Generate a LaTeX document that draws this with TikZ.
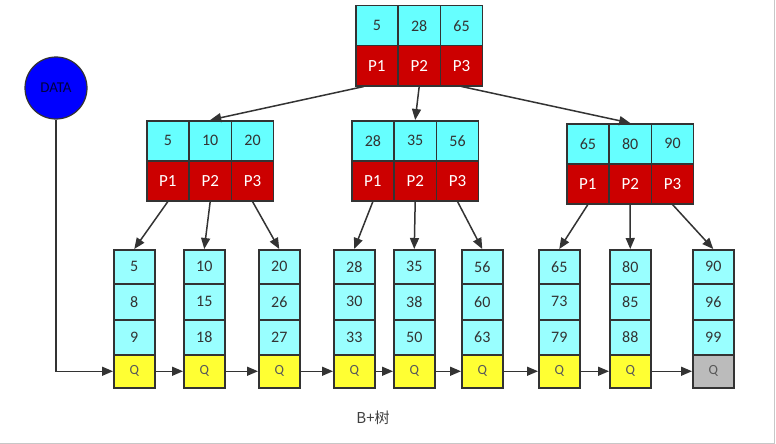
\documentclass[tikz,border=0pt]{standalone}
\usepackage{fontspec}
\setmainfont{Carlito}
\newfontfamily\cjkfont{Noto Sans CJK SC}
\usetikzlibrary{arrows.meta,calc}

\definecolor{keycyan}{HTML}{66FFFF}
\definecolor{leafcyan}{HTML}{99FFFF}
\definecolor{ptrred}{HTML}{CC0000}
\definecolor{qyellow}{HTML}{FFFF33}
\definecolor{qgrey}{HTML}{BBBBBB}
\definecolor{edgegrey}{HTML}{333333}
\definecolor{datablue}{HTML}{0000FF}

\tikzset{
  cellbox/.style={draw=edgegrey, line width=1.5pt, rectangle, inner sep=0pt, anchor=north west},
  keycell/.style={cellbox, fill=keycyan, minimum width=42.3pt, minimum height=40pt,
    text=edgegrey, font=\fontsize{16}{18}\selectfont},
  ptrcell/.style={cellbox, fill=ptrred, minimum width=42.3pt, minimum height=40pt,
    text=white, font=\fontsize{17}{19}\selectfont},
  leafkey/.style={cellbox, fill=leafcyan, minimum width=41pt,
    text=edgegrey, font=\fontsize{16}{18}\selectfont},
  qcell/.style={cellbox, minimum width=41pt, minimum height=33pt,
    text=black!65, font=\fontsize{14}{16}\selectfont},
  arr/.style={draw=edgegrey, line width=1.5pt, -{Triangle[length=11pt,width=9pt]}},
}

% index node: three keys over three pointers; #1 name, #2 left, #3 top
\newcommand\bnode[6]{%
  \node[keycell] (#1a) at (#2,#3) {#4};
  \node[keycell] (#1b) at (#2+42.3,#3) {#5};
  \node[keycell] (#1c) at (#2+84.6,#3) {#6};
  \node[ptrcell] (#1p1) at (#2,#3+40) {P1};
  \node[ptrcell] (#1p2) at (#2+42.3,#3+40) {P2};
  \node[ptrcell] (#1p3) at (#2+84.6,#3+40) {P3};
}

% leaf node: three keys and the next-leaf pointer Q; #1 name, #2 left
\newcommand\bleaf[6]{%
  \node[leafkey, minimum height=34pt] (#1a) at (#2,249) {#3};
  \node[leafkey, minimum height=36pt] (#1b) at (#2,283) {#4};
  \node[leafkey, minimum height=35pt] (#1c) at (#2,319) {#5};
  \node[qcell, fill=#6] (#1q) at (#2,354) {Q};
}

\begin{document}
\begin{tikzpicture}[x=1pt, y=-1pt]
  \useasboundingbox (0,0) rectangle (776,444);
  \fill[white] (0,0) rectangle (776,444);
  \draw[black!22, line width=1pt] (774,0) -- (774,443) -- (0,443);

  % root and index level
  \bnode{rt}{355}{5}{5}{28}{65}
  \bnode{il}{146}{120}{5}{10}{20}
  \bnode{im}{351}{120}{28}{35}{56}
  \bnode{ir}{566}{123}{65}{80}{90}

  % leaf level
  \bleaf{l1}{113}{5}{8}{9}{qyellow}
  \bleaf{l2}{183}{10}{15}{18}{qyellow}
  \bleaf{l3}{258}{20}{26}{27}{qyellow}
  \bleaf{l4}{333}{28}{30}{33}{qyellow}
  \bleaf{l5}{393}{35}{38}{50}{qyellow}
  \bleaf{l6}{461}{56}{60}{63}{qyellow}
  \bleaf{l7}{538}{65}{73}{79}{qyellow}
  \bleaf{l8}{609}{80}{85}{88}{qyellow}
  \bleaf{l9}{692}{90}{96}{99}{qgrey}

  % data entry point
  \node[circle, draw=edgegrey, line width=1.2pt, fill=datablue, minimum size=62pt,
        inner sep=0pt, text=black!75!blue, font=\fontsize{15}{17}\selectfont] (data) at (56,88) {DATA};

  % root to index
  \draw[arr] ([xshift=-13pt]rtp1.south) -- (ilb.north);
  \draw[arr] (rtp2.south) -- (imb.north);
  \draw[arr] (rtp3.south) -- (irb.north);

  % index to leaves
  \draw[arr] (ilp1.south) -- (l1a.north);
  \draw[arr] (ilp2.south) -- (l2a.north);
  \draw[arr] (ilp3.south) -- (l3a.north);
  \draw[arr] (imp1.south) -- (l4a.north);
  \draw[arr] (imp2.south) -- (l5a.north);
  \draw[arr] (imp3.south) -- (l6a.north);
  \draw[arr] (irp1.south) -- (l7a.north);
  \draw[arr] (irp2.south) -- (l8a.north);
  \draw[arr] (irp3.south) -- (l9a.north);

  % leaf chain
  \draw[arr] (data.south) |- (l1q.west);
  \draw[arr] (l1q.east) -- (l2q.west);
  \draw[arr] (l2q.east) -- (l3q.west);
  \draw[arr] (l3q.east) -- (l4q.west);
  \draw[arr] (l4q.east) -- (l5q.west);
  \draw[arr] (l5q.east) -- (l6q.west);
  \draw[arr] (l6q.east) -- (l7q.west);
  \draw[arr] (l7q.east) -- (l8q.west);
  \draw[arr] (l8q.east) -- (l9q.west);

  \node[text=black!75, font=\cjkfont\fontsize{15}{17}\selectfont] (title) at (373,418) {B+树};
\end{tikzpicture}
\end{document}
